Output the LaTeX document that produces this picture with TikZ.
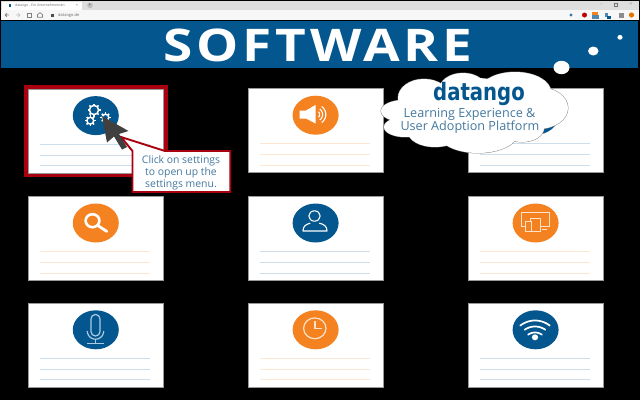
\documentclass[tikz,border=0pt]{standalone}
\usepackage{fontspec}
\usetikzlibrary{calc}
\setmainfont{Open Sans}
\newfontfamily\logofont{DejaVu Sans}
\definecolor{bluea}{HTML}{04568F}
\definecolor{orangea}{HTML}{F58220}
\definecolor{reda}{HTML}{A8000F}
\definecolor{txta}{HTML}{44789F}
\definecolor{paleb}{HTML}{A9CBE3}
\definecolor{paleo}{HTML}{FDE3CC}
\tikzset{
  cardbox/.style={fill=white,draw=black!40,line width=.4pt},
  iconline/.style={white,line width=1.1pt,line cap=round,line join=round},
  cloudpart/.style={draw=black!50,line width=.9pt},
  txt/.style={inner sep=0pt,text=txta,anchor=base},
  calltxt/.style={txt,font=\fontsize{10.4}{12}\selectfont},
  cloudtxt/.style={txt,font=\fontsize{12.6}{14}\selectfont},
}
\newcommand{\card}[4]{% x,y,colour,name
  \node[cardbox,minimum width=135pt,minimum height=84pt,inner sep=0pt,anchor=north west] (#4) at (#1,#2) {};
  \fill[#3] ($(#1,#2)+(67.6,27)$) ellipse [x radius=23,y radius=19.5];
  \foreach \yy in {55.5,66.5,77}{\draw[#3!20,line width=.8pt] ($(#1,#2)+(12,\yy)$) -- ++(110,0);}
}
\newcommand{\arcp}[6]{% style,cx,cy,r,a,b
  \draw[#1] plot[domain=#5:#6,samples=17,smooth] ({#2+#4*cos(\x)},{#3+#4*sin(\x)});
}
\newcommand{\gearic}[3]{% cx,cy,r
  \draw[white,line width=1.5pt] (#1,#2) ellipse [x radius=#3,y radius=#3];
  \foreach \a in {0,45,...,315}{\draw[white,line width=1.5pt] ({#1+#3*cos(\a)},{#2+#3*sin(\a)}) -- ({#1+(#3+1.9)*cos(\a)},{#2+(#3+1.9)*sin(\a)});}
}
\begin{document}
\begin{tikzpicture}[x=1pt,y=-1pt]
\useasboundingbox (0,0) rectangle (640,400);
\fill[black] (0,0) rectangle (640,400);
% browser chrome
\fill[black!13] (1,1) rectangle (639,9.5);
\fill[black!3] (1,9.5) rectangle (639,20);
\fill[white] (2,2) rectangle (82,9.5);
\fill[bluea] (9,4) rectangle (11,6.5);
\node[inner sep=0pt,text=black!60,font=\fontsize{3.4}{4}\selectfont,anchor=west] (tabt) at (15,5.3) {datango - Ein Unternehmenskn};
\node[inner sep=0pt,text=black!60,font=\fontsize{3.6}{4}\selectfont] (tabx) at (77,5.2) {×};
\fill[black!25] (90,5.3) circle (2.8);
\node[inner sep=0pt,text=black!70,font=\fontsize{4.5}{5}\selectfont] (tabp) at (90,5.2) {+};
\draw[black!50,line width=.7pt] (9,15)--(5.5,15) (7,13.2)--(5.2,15)--(7,16.8);
\draw[black!25,line width=.7pt] (16,15)--(20,15) (18.2,13.2)--(20,15)--(18.2,16.8);
\draw[black!50,line width=.7pt] (27,13) rectangle (31,17);
\draw[black!50,line width=.7pt] (37.5,17.3)--(37.5,14.6)--(40,12.6)--(42.5,14.6)--(42.5,17.3)--cycle;
\fill[black!70] (51,13.7) rectangle (53.5,16.5);
\node[inner sep=0pt,text=black!60,font=\fontsize{4}{5}\selectfont,anchor=west] (urlt) at (58,15) {datango.de};
\node[inner sep=0pt,text=black!50,font=\fontsize{4}{5}\selectfont] (minb) at (601,4.5) {–};
\draw[black!55,line width=.6pt] (614,2.8) rectangle (617.5,6);
\node[inner sep=0pt,text=black!50,font=\fontsize{4.5}{5}\selectfont] (clb) at (631,4.5) {×};
\fill[bluea!80] (571,15) circle (1.6);
\fill[red!75!black] (584.5,15) circle (2.5);
\fill[orangea] (592,12)rectangle(598,15);
\fill[bluea!70] (592,15)rectangle(598.5,18.5);
\fill[bluea!70] (604.5,13) rectangle (608,16.5);
\fill[bluea] (607,15.5) rectangle (610.5,18.5);
\fill[black!45] (619,13) rectangle (623.5,17.5);
\fill[orange!90!black] (631.5,15) circle (2.6);
% banner
\fill[bluea] (1,20.5) rectangle (638,68.3);
\node[inner sep=0pt,text=white,xscale=1.18,transform shape,font=\fontsize{45}{50}\selectfont\bfseries\addfontfeature{LetterSpace=7.3}] (title) at (318,45) {SOFTWARE};
% highlight
\fill[reda] (24,85) rectangle (167.5,177);
\card{28.2}{88.6}{bluea}{c1}
\card{248}{88.2}{orangea}{c2}
\card{468}{88.2}{bluea}{c3}
\card{28.2}{196}{orangea}{c4}
\card{248}{196}{bluea}{c5}
\card{468}{196}{orangea}{c6}
\card{28.2}{302.8}{bluea}{c7}
\card{248}{302.8}{orangea}{c8}
\card{468}{302.8}{bluea}{c9}
% gears
\gearic{94}{110}{4.6}
\gearic{90.3}{120.7}{3.4}
\gearic{105.5}{117.5}{3.3}
% speaker
\fill[white] (299.5,110.5)--(306,110.5)--(315.5,105)--(315.5,123.5)--(306,118.5)--(299.5,118.5)--cycle;
\arcp{white,line width=1.1pt}{316}{114.5}{3.6}{-50}{50}
\arcp{white,line width=1.1pt}{316}{114.5}{6.6}{-55}{55}
\arcp{white,line width=1.1pt}{316}{114.5}{9.8}{-55}{55}
% magnifier
\draw[white,line width=2.6pt] (92.5,220.7) ellipse [x radius=6.9,y radius=6.5];
\draw[white,line width=2.8pt,line cap=round] (98.5,226) -- (106.8,231.4);
% user
\draw[iconline] (314.5,216) ellipse [x radius=5.7,y radius=5.2];
\draw[iconline] (303,231) .. controls (303,226) and (306,224.5) .. (310,223.2) (319.5,223.2) .. controls (324,224.5) and (327,226) .. (327,231) -- (303,231);
% devices
\draw[paleo,line width=.8pt] (521.8,212.8) rectangle (549,226.7);
\draw[paleo,line width=.8pt,fill=orangea] (530,218.3) rectangle (540,231.5);
\draw[paleo,line width=.8pt,fill=orangea] (525,221.7) rectangle (531.7,231);
\draw[paleo,line width=.8pt] (541.5,229.3) -- (546.7,229.3);
% microphone
\draw[paleb,line width=1.2pt,rounded corners=4.4pt] (91,314.5) rectangle (100,336);
\arcp{paleb,line width=1.2pt}{95.5}{331}{8.2}{0}{180}
\draw[paleb,line width=1.2pt] (95.5,339.2) -- (95.5,343.3);
\draw[paleb,line width=1.2pt] (87.3,343.5) -- (104,343.5);
% clock
\draw[paleo,line width=1.2pt] (314.8,328.3) ellipse [x radius=11.2,y radius=10.4];
\draw[paleo,line width=1.2pt] (315,321) -- (315,328.8) -- (322.3,328.8);
% wifi
\arcp{white,line width=1.7pt,line cap=round}{535}{344.5}{24}{-128}{-52}
\arcp{white,line width=1.7pt,line cap=round}{535}{344.5}{18}{-125}{-55}
\arcp{white,line width=1.7pt,line cap=round}{535}{344.5}{12}{-125}{-55}
\fill[white] (535,337.3) ellipse [x radius=3.1,y radius=3];
% thought bubbles
\fill[white] (561.5,67.5) ellipse [x radius=8,y radius=6.7];
\fill[white] (593.3,51) ellipse [x radius=5.2,y radius=4.5];
\fill[white] (620,37.3) ellipse [x radius=2.6,y radius=2.4];
% cloud
\foreach \cx/\cy/\rx/\ry in {404/111/23/11,424/98/26/19,463/90/24/17,515/92/36/20,538/108/30/21,522/128/22/14,478/133/40/20,405/127/21/10,435/132/27/15}{
  \draw[cloudpart] (\cx,\cy) ellipse [x radius=\rx,y radius=\ry];
}
\foreach \cx/\cy/\rx/\ry in {404/111/23/11,424/98/26/19,463/90/24/17,515/92/36/20,538/108/30/21,522/128/22/14,478/133/40/20,405/127/21/10,435/132/27/15,475/110/60/32}{
  \fill[white] (\cx,\cy) ellipse [x radius=\rx,y radius=\ry];
}
\node[inner sep=0pt,anchor=base,text=bluea,xscale=.82,transform shape,font=\logofont\fontsize{24}{26}\selectfont\bfseries] (logo) at (479,100) {datango};
\node[cloudtxt] (cl1) at (469.5,117.5) {Learning Experience \&};
\node[cloudtxt] (cl2) at (470,130.7) {User Adoption Platform};
% callout
\draw[fill=white,draw=reda,line width=1.9pt,line join=miter] (132.5,151) -- (121,137) -- (165,151) -- (230.2,151) -- (230.2,192) -- (132.5,192) -- cycle;
\node[calltxt] (ct1) at (181,163.3) {Click on settings};
\node[calltxt] (ct2) at (181,175.3) {to open up the};
\node[calltxt] (ct3) at (181,187.3) {settings menu.};
% cursor
\fill[black!75] (102,116)--(128.5,131)--(119,134)--(127,147)--(122,149.5)--(114,136.5)--(107,142.5)--cycle;
\end{tikzpicture}
\end{document}
